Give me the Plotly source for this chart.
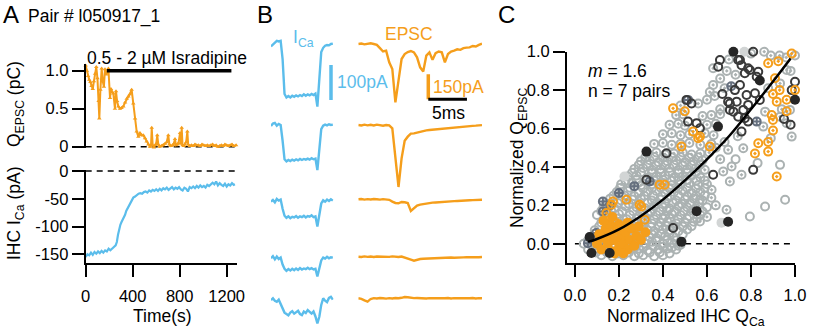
import plotly.graph_objects as go

W, H = 819, 334
FONT = "Arial, Liberation Sans, sans-serif"
ORANGE = "#F59E1B"
BLUE = "#5BBDEB"
GREY = "#ABB2B2"
DARK = "#3A3A3A"
BLACKF = "#262626"
LIGHTF = "#D2D5D5"
SLATE = "#66707F"

# ---------------- Panel A data ----------------
t_q = [0, 10, 20, 30, 40, 50, 60, 70, 80, 90, 100, 110, 116, 125, 136, 145, 155, 164, 175, 184, 193,
       207, 215, 225, 235, 249, 258, 267, 278, 292, 305, 320, 335, 349, 363, 375, 391, 405, 420, 434,
       448, 462, 476, 490, 505, 519, 533, 547, 556, 562, 570, 580, 592, 600, 609, 618, 630, 645, 660,
       675, 689, 703, 712, 725, 740, 750, 760, 768, 780, 790, 803, 812, 817, 824, 835, 845, 855, 865,
       872, 885, 900, 915, 930, 945, 960, 975, 990, 1005, 1020, 1035, 1050, 1065, 1080, 1095, 1110,
       1125, 1140, 1155, 1170, 1185, 1200, 1215, 1230, 1245, 1260, 1280]
q_epsc = [1.07, 1.0, 0.93, 0.88, 0.85, 0.80, 0.76, 0.86, 0.96, 1.05, 0.9, 0.6, 0.37, 0.75, 1.03, 0.86,
          0.79, 1.02, 0.95, 0.99, 1.03, 0.64, 0.76, 0.72, 0.70, 0.50, 0.73, 0.60, 0.53, 0.50, 0.51,
          0.53, 0.58, 0.63, 0.66, 0.69, 0.75, 0.57, 0.37, 0.20, 0.13, 0.18, 0.15, 0.15, 0.11, 0.07,
          0.03, 0.0, 0.02, 0.25, 0.02, -0.01, 0.02, 0.04, 0.15, 0.03, 0.0, 0.01, 0.02, 0.04, 0.06,
          0.15, 0.03, 0.01, 0.02, 0.04, 0.10, 0.02, 0.03, 0.05, 0.18, 0.04, 0.25, 0.02, 0.01, 0.03,
          0.06, 0.20, 0.03, 0.01, 0.02, 0.01, 0.03, 0.02, 0.02, 0.01, 0.03, 0.02, 0.01, 0.02, 0.01,
          0.02, 0.03, 0.01, 0.02, 0.0, 0.01, 0.02, 0.01, 0.03, 0.02, 0.01, 0.02, 0.03, 0.01, 0.02]

t_ica = [0, 15, 30, 45, 60, 75, 90, 105, 120, 135, 150, 165, 180, 195, 210, 225, 240, 255, 265, 275,
         285, 295, 305, 315, 325, 335, 345, 355, 365, 375, 385, 395, 405, 420, 435, 450, 465, 480,
         495, 510, 525, 540, 555, 570, 585, 600, 615, 630, 645, 660, 675, 690, 705, 720, 735, 750,
         765, 780, 795, 810, 825, 840, 855, 870, 885, 900, 915, 930, 945, 960, 975, 990, 1005, 1020,
         1035, 1050, 1065, 1080, 1095, 1110, 1125, 1140, 1155, 1170, 1185, 1200, 1215, 1230, 1245,
         1260, 1270]
i_ca = [-155, -150, -152, -147, -151, -146, -149, -145, -148, -144, -147, -143, -145, -140, -143,
        -139, -137, -134, -128, -115, -104, -97, -92, -88, -84, -79, -72, -68, -63, -58, -54, -51,
        -48, -46, -43, -41, -40, -41, -38, -37, -39, -35, -37, -34, -36, -33, -36, -32, -35, -31,
        -33, -30, -34, -31, -29, -33, -30, -32, -29, -33, -35, -30, -32, -37, -29, -31, -28, -31,
        -27, -30, -26, -29, -27, -30, -25, -27, -24, -21, -24, -19, -26, -22, -25, -27, -23, -28,
        -24, -26, -22, -25, -24]

a_q_ticks = [0, 0.5, 1.0]
a_q_ticktext = ["0", "0.5", "1.0"]
a_i_ticks = [0, -50, -100, -150]
a_i_ticktext = ["0", "-50", "-100", "-150"]
a_t_ticks = [0, 400, 800, 1200]
a_t_ticktext = ["0", "400", "800", "1200"]
drug_on, drug_off = 180, 1240

# ---------------- Panel B data ----------------
dt_ica = 0.25
ica_traces = [
    [-4, 2, 8, 12, 10, 12, -40, -140, -150, -146, -150, -145, -148, -144, -147, -143, -146, -141,
     -145, -141, -144, -140, -143, -139, -176, -100, -20, -8, -2, 0, -1, 3, 4],
    [-3, 4, 6, -2, 3, 0, -45, -98, -104, -100, -103, -99, -102, -98, -101, -97, -100, -97, -99,
     -96, -99, -95, -98, -96, -129, -70, -12, -2, 1, -1, 2, 0, 1],
    [0, 5, -2, 8, 3, 6, -20, -40, -46, -42, -47, -43, -45, -41, -46, -42, -44, -40, -45, -41, -43,
     -39, -44, -42, -71, -35, -5, 4, 0, 6, 2, 7, 3],
    [0, 6, -3, 5, -2, 2, -18, -30, -36, -31, -35, -30, -34, -29, -33, -28, -32, -29, -31, -27, -31,
     -28, -32, -30, -52, -25, -6, 2, -1, 4, 0, 3, 2],
    [0, 5, -2, -5, 1, -12, -28, -36, -40, -44, -36, -32, -39, -36, -31, -40, -43, -33, -37, -29,
     -34, -39, -33, -47, -67, -48, -14, 5, -2, -6, 6, 9, 1],
]
dt_epsc = 0.4
epsc_traces = [
    [0, 3, -2, 2, 4, 0, -5, -25, -45, -40, -110, -150, -350, -220, -90, -60, -48, -42, -50, -80,
     -140, -165, -70, -50, -95, -55, -45, -50, -110, -60, -45, -40, -32, -35, -25, -22, -20, -12,
     -15, -5, 2],
    [0, -3, 2, -2, 1, -3, 2, -1, -4, 0, -2, -20, -200, -372, -200, -95, -70, -52, -50, -45, -40,
     -38, -32, -30, -28, -25, -24, -22, -20, -18, -16, -15, -12, -11, -9, -8, -6, -5, -4, -2, -1],
    [0, 2, -2, 1, -1, 2, 0, -2, 1, -1, -3, -14, -22, -24, -16, -18, -22, -70, -55, -38, -32, -28,
     -25, -22, -20, -19, -17, -16, -15, -13, -12, -11, -10, -8, -8, -6, -6, -5, -4, -3, -3],
    [0, -2, 2, -1, 1, -2, 1, 0, -2, 1, -1, 2, 0, -2, 1, -4, -10, -18, -24, -18, -14, -12, -11,
     -10, -8, -9, -7, -8, -6, -7, -5, -6, -4, -5, -4, -3, -4, -3, -2, -3, -2],
    [0, -3, -12, -20, -4, 1, -1, 2, 0, -2, 1, -1, 2, 0, 3, 8, 6, 3, 1, 2, 0, 2, -1, 1, 0, 2, -1,
     1, 0, 2, -1, 1, 0, 2, -1, 1, 0, 2, -1, 1, 0],
]
ica_bar_pa, epsc_bar_pa, time_bar_ms = 100, 150, 5

# ---------------- Panel C data ----------------
grey_open = [
    (0.12, -0.06), (0.17, -0.065), (0.22, -0.06), (0.27, -0.065), (0.31, -0.06), (0.36, -0.065), (0.40, -0.06),
    (0.06, -0.03), (0.10, -0.025), (0.15, -0.03), (0.20, -0.035), (0.25, -0.03), (0.29, -0.025), (0.33, -0.035),
    (0.38, -0.03), (0.42, -0.025), (0.46, -0.03),
    (0.04, 0.0), (0.08, 0.005), (0.13, -0.005), (0.18, 0.0), (0.23, 0.005), (0.28, -0.005), (0.32, 0.0),
    (0.35, 0.01), (0.40, 0.0), (0.44, 0.005), (0.48, -0.005),
    (0.07, 0.035), (0.11, 0.03), (0.16, 0.04), (0.21, 0.035), (0.26, 0.03), (0.30, 0.04), (0.34, 0.035),
    (0.37, 0.03), (0.41, 0.04), (0.45, 0.035),
    (0.09, 0.07), (0.14, 0.075), (0.19, 0.065), (0.24, 0.07), (0.28, 0.075), (0.33, 0.07), (0.36, 0.065),
    (0.40, 0.075), (0.43, 0.07), (0.47, 0.065), (0.51, 0.075),
    (0.12, 0.11), (0.17, 0.115), (0.22, 0.105), (0.27, 0.11), (0.31, 0.115), (0.35, 0.105), (0.39, 0.11),
    (0.42, 0.115), (0.46, 0.105), (0.50, 0.11), (0.54, 0.115),
    (0.10, 0.15), (0.15, 0.145), (0.20, 0.155), (0.25, 0.15), (0.29, 0.145), (0.33, 0.155), (0.37, 0.15),
    (0.41, 0.145), (0.44, 0.155), (0.48, 0.15), (0.52, 0.145), (0.57, 0.15),
    (0.13, 0.19), (0.18, 0.185), (0.23, 0.195), (0.28, 0.19), (0.32, 0.185), (0.36, 0.195), (0.40, 0.19),
    (0.43, 0.185), (0.47, 0.195), (0.51, 0.19), (0.55, 0.185), (0.60, 0.19),
    (0.16, 0.235), (0.21, 0.225), (0.26, 0.23), (0.30, 0.235), (0.35, 0.225), (0.39, 0.23), (0.42, 0.235),
    (0.46, 0.225), (0.50, 0.23), (0.54, 0.235), (0.58, 0.225),
    (0.19, 0.27), (0.24, 0.275), (0.29, 0.265), (0.33, 0.27), (0.37, 0.275), (0.41, 0.265), (0.45, 0.27),
    (0.49, 0.275), (0.53, 0.265), (0.57, 0.27),
    (0.932, 0.411), (0.955, 0.229), (0.864, 0.194), (0.795, 0.142), (0.522, 0.212), (0.568, 0.229),
    (0.73, 0.44), (0.83, 0.42),
]
grey_open_fill_in = [
    (0.095, -0.045), (0.145, -0.045), (0.195, -0.05), (0.245, -0.045), (0.29, -0.05), (0.34, -0.045),
    (0.385, -0.045), (0.43, -0.05),
    (0.08, -0.015), (0.125, -0.015), (0.175, -0.01), (0.225, -0.015), (0.27, -0.02), (0.31, -0.015),
    (0.355, -0.01), (0.40, -0.015), (0.44, -0.02), (0.47, -0.01),
    (0.06, 0.018), (0.105, 0.015), (0.155, 0.02), (0.20, 0.018), (0.245, 0.015), (0.29, 0.02),
    (0.33, 0.018), (0.37, 0.015), (0.42, 0.02), (0.46, 0.018),
    (0.09, 0.052), (0.135, 0.05), (0.18, 0.055), (0.225, 0.052), (0.27, 0.05), (0.31, 0.055),
    (0.35, 0.05), (0.39, 0.052), (0.43, 0.055), (0.49, 0.05),
    (0.11, 0.09), (0.16, 0.092), (0.21, 0.088), (0.255, 0.09), (0.30, 0.092), (0.345, 0.088),
    (0.38, 0.09), (0.415, 0.092), (0.45, 0.088), (0.49, 0.09), (0.53, 0.092),
    (0.14, 0.13), (0.19, 0.132), (0.235, 0.128), (0.28, 0.13), (0.32, 0.132), (0.36, 0.128),
    (0.40, 0.13), (0.43, 0.132), (0.47, 0.128), (0.51, 0.13), (0.555, 0.132),
    (0.12, 0.17), (0.165, 0.172), (0.215, 0.168), (0.265, 0.17), (0.305, 0.172), (0.345, 0.168),
    (0.385, 0.17), (0.42, 0.172), (0.455, 0.168), (0.495, 0.17), (0.535, 0.172), (0.58, 0.168),
    (0.145, 0.21), (0.195, 0.212), (0.245, 0.208), (0.29, 0.21), (0.33, 0.212), (0.37, 0.208),
    (0.41, 0.21), (0.445, 0.212), (0.485, 0.208), (0.525, 0.21), (0.565, 0.212),
    (0.175, 0.25), (0.225, 0.252), (0.27, 0.248), (0.315, 0.25), (0.355, 0.252), (0.395, 0.248),
    (0.435, 0.25), (0.47, 0.252), (0.51, 0.248), (0.55, 0.25), (0.59, 0.252),
    (0.205, 0.29), (0.25, 0.292), (0.31, 0.288), (0.35, 0.29), (0.39, 0.292), (0.43, 0.288),
    (0.47, 0.29), (0.51, 0.292), (0.55, 0.288), (0.59, 0.29),
    (0.23, 0.33), (0.28, 0.332), (0.32, 0.328), (0.36, 0.33), (0.40, 0.332), (0.44, 0.328),
    (0.47, 0.33), (0.51, 0.332), (0.55, 0.328), (0.59, 0.33),
    (0.26, 0.37), (0.30, 0.372), (0.35, 0.368), (0.39, 0.37), (0.43, 0.372), (0.47, 0.368),
    (0.51, 0.37), (0.55, 0.372),
    (0.29, 0.41), (0.33, 0.412), (0.37, 0.408), (0.41, 0.41), (0.45, 0.412), (0.49, 0.408),
    (0.53, 0.41), (0.57, 0.412),
    (0.32, 0.45), (0.36, 0.452), (0.40, 0.448), (0.44, 0.45), (0.48, 0.452), (0.52, 0.448), (0.56, 0.45),
]
grey_dot = [
    (0.21, 0.31), (0.26, 0.315), (0.30, 0.305), (0.35, 0.31), (0.40, 0.315), (0.44, 0.305), (0.48, 0.31),
    (0.52, 0.315), (0.56, 0.305), (0.60, 0.31),
    (0.24, 0.35), (0.28, 0.355), (0.33, 0.345), (0.37, 0.35), (0.41, 0.355), (0.45, 0.345), (0.49, 0.35),
    (0.53, 0.355), (0.57, 0.345),
    (0.27, 0.39), (0.31, 0.395), (0.35, 0.385), (0.39, 0.39), (0.43, 0.395), (0.47, 0.385), (0.51, 0.39),
    (0.55, 0.395), (0.59, 0.385),
    (0.30, 0.43), (0.34, 0.435), (0.38, 0.425), (0.42, 0.43), (0.46, 0.435), (0.50, 0.425), (0.54, 0.43),
    (0.58, 0.435),
    (0.33, 0.47), (0.37, 0.475), (0.41, 0.465), (0.45, 0.47), (0.49, 0.475), (0.53, 0.465), (0.57, 0.47),
    (0.61, 0.475),
    (0.36, 0.52), (0.40, 0.525), (0.44, 0.515), (0.48, 0.52), (0.52, 0.525), (0.57, 0.515), (0.62, 0.52),
    (0.40, 0.57), (0.44, 0.575), (0.48, 0.565), (0.52, 0.57), (0.59, 0.575), (0.63, 0.565),
    (0.43, 0.62), (0.47, 0.625), (0.50, 0.615), (0.60, 0.62), (0.64, 0.625),
    (0.46, 0.67), (0.49, 0.675), (0.58, 0.665), (0.62, 0.67), (0.66, 0.675),
    (0.48, 0.72), (0.56, 0.73), (0.60, 0.75), (0.635, 0.77), (0.613, 0.79), (0.628, 0.827), (0.628, 0.914),
    (0.66, 0.86), (0.69, 0.90), (0.70, 0.96), (0.73, 0.88), (0.80, 0.99), (0.86, 1.0), (0.89, 0.98),
    (0.93, 0.98), (0.96, 0.97), (1.0, 0.98), (0.98, 0.90), (0.962, 0.905), (0.932, 0.835), (0.878, 0.81),
    (0.977, 0.697), (0.932, 0.662), (0.962, 0.628), (0.864, 0.688), (0.985, 0.558), (0.856, 0.61),
    (0.94, 0.70), (0.89, 0.55), (0.66, 0.70), (0.68, 0.81),
    (0.696, 0.489), (0.765, 0.497), (0.712, 0.402), (0.757, 0.359), (0.704, 0.324), (0.621, 0.281),
    (0.674, 0.376), (0.66, 0.44), (0.64, 0.50), (0.68, 0.53), (0.74, 0.56), (0.689, 0.177),
    (0.568, 0.116), (0.60, 0.14), (0.64, 0.20), (0.62, 0.24),
]
dark_open = [
    (0.659, 0.957), (0.81, 1.0), (0.742, 0.957), (0.757, 0.93), (0.795, 0.905), (0.833, 0.896),
    (0.772, 0.888), (0.826, 0.87), (0.727, 0.80), (0.75, 0.827), (0.78, 0.775), (0.818, 0.784),
    (0.735, 0.74), (0.787, 0.723), (0.84, 0.749), (0.765, 0.697), (0.704, 0.697), (0.772, 0.654),
    (0.742, 0.662), (0.696, 0.74), (0.507, 0.749), (0.553, 0.628), (0.568, 0.601), (0.514, 0.636),
    (1.0, 0.844), (0.985, 0.80), (0.757, 0.584), (0.704, 0.73), (0.72, 0.688), (0.787, 0.636),
    (0.416, 0.471), (0.651, 0.922), (0.75, 0.957), (0.787, 0.914), (0.628, 0.359), (0.81, 0.385),
    (0.325, 0.333), (0.446, 0.082), (0.53, 0.73), (0.98, 0.62), (0.95, 0.65), (0.67, 0.78),
]
black_fill = [
    (0.72, 1.0), (0.84, 0.85), (1.0, 0.75), (0.325, 0.48), (0.65, 0.61), (0.484, 0.01), (0.553, 0.17),
    (0.696, 0.115), (0.067, 0.035), (0.075, -0.048), (0.158, -0.048),
]
light_fill = [(0.225, 0.35), (0.666, 0.11), (0.77, 1.0)]
cross_open = [
    (0.127, 0.22), (0.127, 0.168), (0.20, 0.264), (0.34, 0.324), (0.097, 0.056), (0.059, 0.003),
    (0.121, 0.042), (0.16, 0.20), (0.514, 0.749), (0.826, 0.636), (0.71, 0.82), (0.27, 0.30),
]
orange_dot = [
    (0.878, 0.94), (0.924, 0.95), (0.985, 0.99), (0.909, 0.862), (0.90, 0.78), (0.93, 0.80), (1.0, 0.80),
    (0.917, 0.74), (0.962, 0.75), (0.90, 0.645), (0.962, 0.69), (0.90, 0.59), (0.894, 0.67),
    (0.537, 0.584), (0.56, 0.55), (0.446, 0.705), (0.499, 0.69), (0.568, 0.558), (0.613, 0.506),
    (0.484, 0.506), (0.833, 0.523), (0.878, 0.53), (0.878, 0.48), (0.818, 0.47), (0.917, 0.35),
    (0.385, 0.307), (0.408, 0.307), (0.234, 0.229), (0.294, 0.203), (0.166, 0.203), (0.143, 0.16),
    (0.188, 0.108), (0.317, 0.125), (0.173, 0.22), (0.302, 0.194),
]
orange_fill = [
    (0.10, 0.0), (0.12, -0.03), (0.13, 0.03), (0.15, 0.0), (0.16, 0.05), (0.17, -0.04), (0.18, 0.02),
    (0.19, 0.07), (0.20, -0.02), (0.21, 0.03), (0.22, 0.0), (0.23, 0.06), (0.24, -0.03), (0.25, 0.02),
    (0.26, 0.08), (0.27, -0.01), (0.28, 0.04), (0.14, 0.08), (0.11, 0.05), (0.30, 0.02), (0.32, 0.06),
    (0.20, 0.10), (0.24, 0.11), (0.16, 0.10), (0.18, -0.05), (0.22, -0.05), (0.29, 0.09), (0.13, 0.12),
    (0.17, 0.14),
]
fit_x = [0.06, 0.10, 0.20, 0.30, 0.40, 0.50, 0.60, 0.70, 0.80, 0.90, 0.98]
fit_y = [0.01, 0.025, 0.075, 0.145, 0.23, 0.33, 0.44, 0.56, 0.70, 0.845, 0.965]
c_ticks = [0.0, 0.2, 0.4, 0.6, 0.8, 1.0]
c_ticktext = ["0.0", "0.2", "0.4", "0.6", "0.8", "1.0"]

# ---------------- helpers ----------------
def xdom(p0, p1):
    return [p0 / W, p1 / W]


def ydom(top, bottom):
    return [1 - bottom / H, 1 - top / H]


def px(x):
    return x / W


def py(y):
    return 1 - y / H


fig = go.Figure()
layout = {}
TICKFONT = dict(family=FONT, size=16.5, color="black")
axis_common = dict(showgrid=False, zeroline=False, showline=True, linecolor="black", linewidth=2,
                   ticks="outside", ticklen=12, tickwidth=2, tickcolor="black", tickfont=TICKFONT,
                   automargin=False, tickmode="array")

# Panel A top
A_X0 = 85.7
A_PXS = 0.1175
A_XMAX = 1290
a_xdom = xdom(A_X0, A_X0 + A_XMAX * A_PXS)
layout["xaxis"] = dict(domain=a_xdom, range=[0, A_XMAX], visible=False, anchor="y")
layout["yaxis"] = dict(axis_common, domain=ydom(146.7 - 1.09 * 76, 146.7 + 0.02 * 76), range=[-0.02, 1.09],
                       tickvals=a_q_ticks, ticktext=a_q_ticktext, anchor="x")
fig.add_trace(go.Scatter(x=t_q, y=q_epsc, mode="lines+markers", xaxis="x", yaxis="y", cliponaxis=False,
                         line=dict(color=ORANGE, width=2),
                         marker=dict(symbol="triangle-up", size=4, color=ORANGE)))

# Panel A bottom
I_S = 0.555
layout["xaxis2"] = dict(axis_common, domain=a_xdom, range=[0, A_XMAX], tickvals=a_t_ticks,
                        ticktext=a_t_ticktext, anchor="y2", ticklabelstandoff=5)
layout["yaxis2"] = dict(axis_common, domain=ydom(171 - 2 * I_S, 171 + 166 * I_S), range=[-166, 2],
                        tickvals=a_i_ticks, ticktext=a_i_ticktext, anchor="x2")
fig.add_trace(go.Scatter(x=t_ica, y=i_ca, mode="lines", xaxis="x2", yaxis="y2",
                         line=dict(color=BLUE, width=2.2)))

# Panel C
c_x0, c_x1 = 567, 795
c_top, c_bot = 51.7, 263
layout["xaxis3"] = dict(axis_common, domain=xdom(c_x0, c_x1), range=[-0.036, 1.0], tickvals=c_ticks,
                        ticktext=c_ticktext, anchor="y3", ticklabelstandoff=4)
layout["yaxis3"] = dict(axis_common, domain=ydom(c_top, c_bot), range=[-0.1, 1.0], tickvals=c_ticks,
                        ticktext=c_ticktext, anchor="x3")


def scat(pts, symbol, color, size=8, lw=2, fill=None):
    xs, ys = zip(*pts)
    m = dict(symbol=symbol, size=size, color=color, line=dict(color=color, width=lw))
    if fill:
        m = dict(symbol=symbol, size=size, color=fill, line=dict(width=0))
    fig.add_trace(go.Scatter(x=list(xs), y=list(ys), mode="markers", xaxis="x3", yaxis="y3",
                             marker=m, cliponaxis=False))


scat(grey_open, "circle-open", GREY)
scat(grey_open_fill_in, "circle-open", GREY)
scat(grey_dot, "circle-open-dot", GREY)
scat(cross_open, "circle-cross-open", SLATE)
scat(light_fill, "circle", None, size=10, fill=LIGHTF)
scat(orange_fill, "circle", None, size=10, fill=ORANGE)
scat(dark_open, "circle-open", DARK)
scat(orange_dot, "circle-open-dot", ORANGE)
scat(black_fill, "circle", None, size=10, fill=BLACKF)
fig.add_trace(go.Scatter(x=fit_x, y=fit_y, mode="lines", xaxis="x3", yaxis="y3",
                         line=dict(color="black", width=2.5, shape="spline")))

# Panel B
blue_base = [45, 125, 201.7, 258.3, 300]
orange_base = [44, 125, 199.3, 256.7, 298.3]
B_BLUE_X = (271, 333.6)
B_OR_X = (358.3, 482)
B_PX_PER_MS = 7.73
BLUE_S = 0.35
OR_S = 1 / 6
shapes = []
annotations = []


def trace_axes(idx, vals, dt, base, scale, xpx, color):
    t = [round(i * dt, 3) for i in range(len(vals))]
    top = max(1, base - max(max(vals), 0) * scale - 6)
    bot = min(H - 1, base - min(vals) * scale + 6)
    xr = [0, (xpx[1] - xpx[0]) / B_PX_PER_MS]
    layout[f"xaxis{idx}"] = dict(domain=xdom(*xpx), range=xr, visible=False, anchor=f"y{idx}")
    layout[f"yaxis{idx}"] = dict(domain=ydom(top, bot), range=[-(bot - base) / scale, (base - top) / scale],
                                 visible=False, anchor=f"x{idx}")
    fig.add_trace(go.Scatter(x=t, y=vals, mode="lines", xaxis=f"x{idx}", yaxis=f"y{idx}",
                             line=dict(color=color, width=2.4)))


for k in range(5):
    trace_axes(4 + k, ica_traces[k], dt_ica, blue_base[k], BLUE_S, B_BLUE_X, BLUE)
    trace_axes(9 + k, epsc_traces[k], dt_epsc, orange_base[k], OR_S, B_OR_X, ORANGE)

# scale bars
bx = (331 - B_BLUE_X[0]) / B_PX_PER_MS
by0 = -(65 - blue_base[0]) / BLUE_S
shapes.append(dict(type="line", xref="x4", yref="y4", x0=bx, x1=bx, y0=by0, y1=by0 - ica_bar_pa,
                   line=dict(color=BLUE, width=3.5)))
ox = (428.3 - B_OR_X[0]) / B_PX_PER_MS
oy0 = -(99.3 - orange_base[0]) / OR_S
shapes.append(dict(type="line", xref="x9", yref="y9", x0=ox, x1=ox, y0=oy0, y1=oy0 + epsc_bar_pa,
                   line=dict(color=ORANGE, width=3.5)))
shapes.append(dict(type="line", xref="x9", yref="y9", x0=ox, x1=ox + time_bar_ms, y0=oy0, y1=oy0,
                   line=dict(color="black", width=3)))

# drug bar and dashed zero lines
shapes.append(dict(type="line", xref="x", yref="y", x0=drug_on, x1=drug_off, y0=1.0, y1=1.0,
                   line=dict(color="black", width=3.5)))
shapes.append(dict(type="line", xref="x", yref="y", x0=0, x1=1275, y0=0, y1=0, layer="below",
                   line=dict(color="black", width=1.6, dash="6px,5px")))
shapes.append(dict(type="line", xref="x2", yref="y2", x0=0, x1=1270, y0=0, y1=0, layer="below",
                   line=dict(color="black", width=1.6, dash="6px,5px")))
shapes.append(dict(type="line", xref="x3", yref="y3", x0=0.0, x1=0.98, y0=0, y1=0, layer="below",
                   line=dict(color="black", width=1.6, dash="6px,5px")))


def ann(text, x, y, size=17.5, color="black", xanchor="center", yanchor="middle", angle=0):
    annotations.append(dict(text=text, x=px(x), y=py(y), xref="paper", yref="paper", showarrow=False,
                            xanchor=xanchor, yanchor=yanchor, textangle=angle,
                            font=dict(family=FONT, size=size, color=color)))


ann("A", 1, 14, size=24, xanchor="left")
ann("Pair # l050917_1", 26, 16.5, xanchor="left")
ann("0.5 - 2 µM Isradipine", 166.5, 58)
ann("Q<sub>EPSC</sub> (pC)", 15, 104, angle=-90)
ann("IHC I<sub>Ca</sub> (pA)", 15, 214, angle=-90)
ann("Time(s)", 162, 316)
ann("B", 255, 14, size=24, xanchor="left")
ann("I<sub>Ca</sub>", 303, 38, color=BLUE)
ann("EPSC", 409, 34, color=ORANGE)
ann("100pA", 335, 82, color=BLUE, xanchor="left")
ann("150pA", 431, 87, color=ORANGE, xanchor="left")
ann("5ms", 430, 113, xanchor="left")
ann("C", 496, 14, size=24, xanchor="left")
ann("<i>m</i> = 1.6", 586, 71.5, xanchor="left")
ann("n = 7 pairs", 586, 91, xanchor="left")
ann("Normalized Q<sub>EPSC</sub>", 518, 158, angle=-90)
ann("Normalized IHC Q<sub>Ca</sub>", 686, 317)

fig.update_layout(**layout)
fig.update_layout(width=W, height=H, margin=dict(l=0, r=0, t=0, b=0), showlegend=False,
                  paper_bgcolor="white", plot_bgcolor="rgba(0,0,0,0)", shapes=shapes,
                  annotations=annotations, font=dict(family=FONT, size=16.5, color="black"))
fig.write_html("out.html", config={"displayModeBar": False},
               post_script="document.body.style.margin='0px';document.body.style.overflow='hidden';")
